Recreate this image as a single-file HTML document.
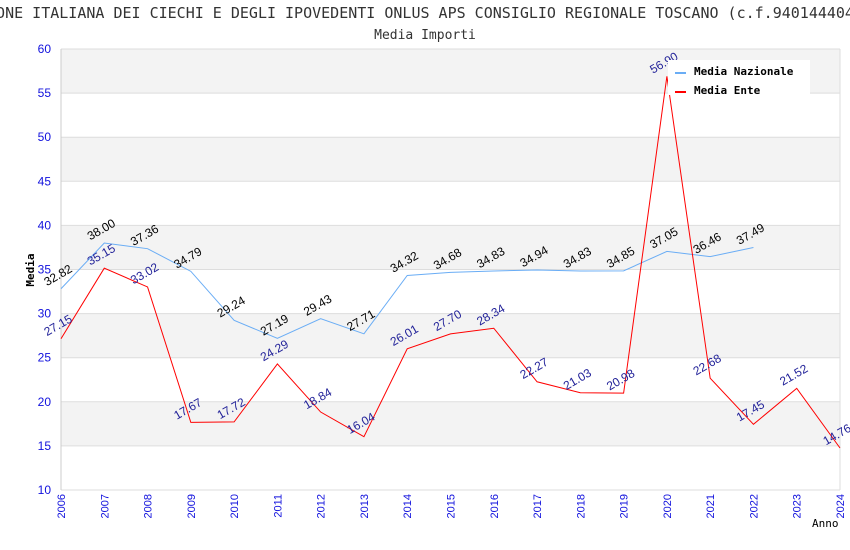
<!DOCTYPE html>
<html><head><meta charset="utf-8"><style>
body{margin:0;background:#fff;}
svg{display:block;font-family:"DejaVu Sans Mono","Liberation Mono",monospace;}
</style></head><body>
<svg id="chart" width="850" height="550">
<text x="425" y="18" text-anchor="middle" font-size="15" fill="#333">UNIONE ITALIANA DEI CIECHI E DEGLI IPOVEDENTI ONLUS APS CONSIGLIO REGIONALE TOSCANO (c.f.94014440480)</text>
<text x="425" y="39" text-anchor="middle" font-size="13" fill="#333">Media Importi</text>
<g id="bands"></g><g id="grid"></g><g id="axes"></g><g id="series"></g><g id="labels"></g>
<text x="34" y="270" text-anchor="middle" font-size="11" font-weight="bold" fill="#000" transform="rotate(-90 34 270)">Media</text>
<text x="812" y="527" font-size="11" fill="#000">Anno</text>
<g>
<rect x="668" y="60" width="142" height="35" fill="#fff"/>
<line x1="675" y1="73" x2="686" y2="73" stroke="#6aadf5" stroke-width="2"/>
<text x="694" y="75" font-size="11" font-weight="bold" fill="#000">Media Nazionale</text>
<line x1="675" y1="92" x2="686" y2="92" stroke="#f00" stroke-width="2"/>
<text x="694" y="94" font-size="11" font-weight="bold" fill="#000">Media Ente</text>
</g>
</svg>
<script>
const years=[2006,2007,2008,2009,2010,2011,2012,2013,2014,2015,2016,2017,2018,2019,2020,2021,2022,2023,2024];
const national=[32.82,38.00,37.36,34.79,29.24,27.19,29.43,27.71,34.32,34.68,34.83,34.94,34.83,34.85,37.05,36.46,37.49];
const ente=[27.15,35.15,33.02,17.67,17.72,24.29,18.84,16.04,26.01,27.70,28.34,22.27,21.03,20.98,56.90,22.68,17.45,21.52,14.76];
const yTicks=[10,15,20,25,30,35,40,45,50,55,60];
const L=61,R=840,T=49,B=490,ymin=10,ymax=60;
const xs=i=>L+(R-L)*i/(years.length-1);
const ys=v=>B-(v-ymin)/(ymax-ymin)*(B-T);
const NS='http://www.w3.org/2000/svg';
function mk(tag,attrs,parent,txt){const e=document.createElementNS(NS,tag);for(const k in attrs)e.setAttribute(k,attrs[k]);if(txt!==undefined)e.textContent=txt;document.getElementById(parent).appendChild(e);return e;}
for(let i=0;i<yTicks.length-1;i++){
  const top=yTicks[yTicks.length-1-i],bot=yTicks[yTicks.length-2-i];
  if(i%2===0){const r=mk('rect',{x:L,y:ys(top),width:R-L,height:ys(bot)-ys(top),fill:'#f3f3f3'},'bands');
  
  }
}
yTicks.forEach(v=>{
  const g=mk('line',{x1:L,x2:R,y1:ys(v),y2:ys(v),stroke:'#ddd'},'grid');
  
  
  const t=mk('text',{x:L-10,y:ys(v)+4,'text-anchor':'end','font-size':12,fill:'#11d','font-family':'"Liberation Sans",sans-serif'},'axes',String(v));
  
  
});
mk('line',{x1:L,x2:L,y1:T,y2:B,stroke:'#ccc'},'axes');
mk('line',{x1:R,x2:R,y1:T,y2:B,stroke:'#ddd'},'axes');
years.forEach((y,i)=>{
  const t=mk('text',{x:xs(i)+4,y:B+4,'text-anchor':'end','font-size':11,fill:'#11d','font-family':'"Liberation Sans",sans-serif',transform:`rotate(-90 ${xs(i)+4} ${B+4})`},'axes',String(y));
  
  
});
function series(arr,color,name,labColor){
  const p=mk('polyline',{points:arr.map((v,i)=>xs(i)+','+ys(v)).join(' '),fill:'none',stroke:color,'stroke-width':1},'series');
  
  
  arr.forEach((v,i)=>{
    const x=xs(i)-1,y=ys(v)-10;
    const t=mk('text',{x:x,y:y,'text-anchor':'middle','font-size':12,fill:labColor,'font-family':'"Liberation Sans",sans-serif',transform:`rotate(-30 ${x} ${y})`},'labels',v.toFixed(2));
    
    
  });
}
series(national,'#6aadf5','national-line','#000');
series(ente,'#f00','ente-line','#229');
</script>
</body></html>
